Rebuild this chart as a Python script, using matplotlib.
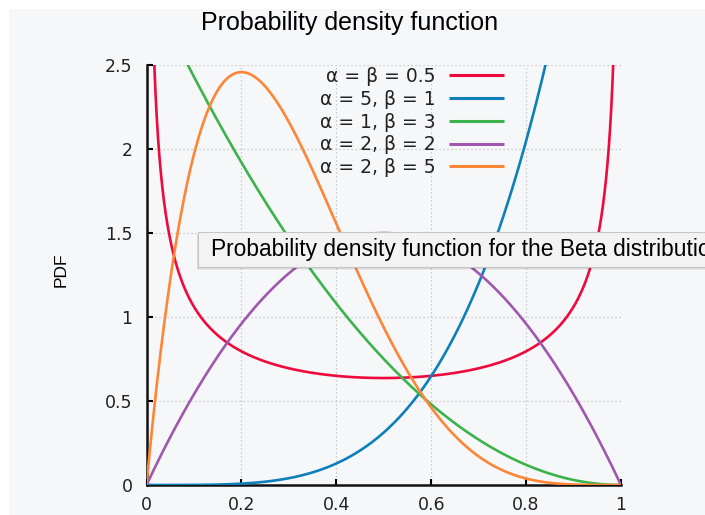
import math
import numpy as np
import matplotlib
matplotlib.use("Agg")
import matplotlib.pyplot as plt
from matplotlib.patches import Rectangle

# Beta distribution parameters for each curve
alphas = [0.5, 5, 1, 2, 2]
betas = [0.5, 1, 3, 2, 5]
labels = ["α = β = 0.5", "α = 5, β = 1", "α = 1, β = 3", "α = 2, β = 2", "α = 2, β = 5"]
colors = ["#ee0a3c", "#0d7fba", "#3cb34a", "#9f58ad", "#ff8536"]

x_ticks = [0, 0.2, 0.4, 0.6, 0.8, 1]
x_tick_labels = ["0", "0.2", "0.4", "0.6", "0.8", "1"]
y_ticks = [0, 0.5, 1, 1.5, 2, 2.5]
y_tick_labels = ["0", "0.5", "1", "1.5", "2", "2.5"]

title = "Probability density function"
tooltip = "Probability density function for the Beta distribution"


def beta_pdf(x, a, b):
    norm = math.gamma(a + b) / (math.gamma(a) * math.gamma(b))
    return norm * x ** (a - 1) * (1 - x) ** (b - 1)


W, H = 705, 515
fig = plt.figure(figsize=(W / 100, H / 100), dpi=100, facecolor="white")

# light panel behind the chart
fig.patches.append(Rectangle((9 / W, 0), 1, 1 - 9 / H, transform=fig.transFigure,
                             facecolor="#f6f7f9", edgecolor="none", zorder=-5))

ax = fig.add_axes([146.5 / W, 30 / H, 474.5 / W, 420 / H])
ax.set_facecolor("none")
ax.set_zorder(1)

xs = np.linspace(0, 1, 4001)
for a, b, lab, col in zip(alphas, betas, labels, colors):
    xx = xs[1:-1] if (a < 1 or b < 1) else xs
    ax.plot(xx, beta_pdf(xx, a, b), color=col, lw=1.9, label=lab, zorder=3,
            solid_capstyle="butt")

ax.set_xlim(0, 1)
ax.set_ylim(0, 2.5)
ax.set_xticks(x_ticks, x_tick_labels)
ax.set_yticks(y_ticks, y_tick_labels)
ax.tick_params(direction="in", length=4, width=1.5, colors="black",
               labelsize=12.5, labelcolor="#222222")
ax.tick_params(axis="x", pad=8)
ax.tick_params(axis="y", pad=10)
for lab in ax.get_xticklabels() + ax.get_yticklabels():
    lab.set_family("DejaVu Sans")

ax.grid(True, color="#bdbdbd", lw=0.9, linestyle=(0, (1.0, 2.2)), zorder=1)
ax.set_axisbelow(True)
for side in ["top", "right"]:
    ax.spines[side].set_visible(False)
for side in ["left", "bottom"]:
    ax.spines[side].set_linewidth(1.8)
    ax.spines[side].set_color("#111111")
    ax.spines[side].set_zorder(2.5)

leg = ax.legend(loc="upper right", bbox_to_anchor=(504 / W, 1 - 67 / H),
                bbox_transform=fig.transFigure, frameon=False, markerfirst=False,
                prop={"family": "DejaVu Sans", "size": 13.5}, handlelength=2.95,
                handletextpad=0.7, labelspacing=0.2, borderpad=0, borderaxespad=0)
for line in leg.get_lines():
    line.set_linewidth(2.2)
for t in leg.get_texts():
    t.set_color("#222222")

fig.text(350 / W, 1 - 23 / H, title, ha="center", va="center",
         family="Liberation Sans", fontsize=18, color="black")
fig.text(61 / W, 1 - 270 / H, "PDF", rotation=90, ha="center", va="center",
         family="Liberation Sans", fontsize=12.5, color="black")

# hover tooltip
bx, by, bh = 198.3, 266.7, 34.4
for off, alpha in [(3, 0.05), (2, 0.07), (1, 0.09)]:
    fig.patches.append(Rectangle(((bx - off * 0.5) / W, (H - by - off) / H), 1, bh / H,
                                 transform=fig.transFigure, facecolor="black",
                                 edgecolor="none", alpha=alpha, zorder=10))
fig.patches.append(Rectangle((bx / W, (H - by) / H), 1, bh / H, transform=fig.transFigure,
                             facecolor="#f3f3f3", edgecolor="#c6c6c6", lw=0.8, zorder=11))
fig.text(211 / W, 1 - 249.5 / H, tooltip, ha="left", va="center",
         family="Liberation Sans", fontsize=16.4, color="black", zorder=12)

fig.savefig("out.png", dpi=100, facecolor=fig.get_facecolor())
